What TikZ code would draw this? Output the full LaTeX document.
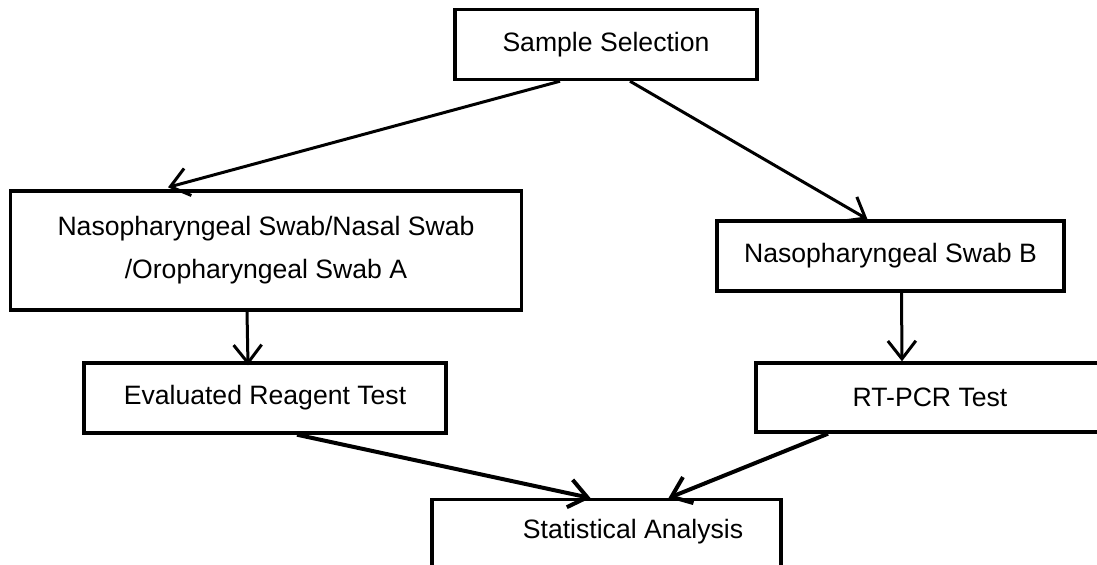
\documentclass[tikz,border=0pt]{standalone}
\usepackage{fontspec}
\setmainfont{Liberation Sans}
\usetikzlibrary{arrows.meta}
\begin{document}
\begin{tikzpicture}[x=0.5pt,y=-0.5pt,
  box/.style={draw=black,line width=1.7pt,fill=white,inner sep=0pt,align=center,
    font=\fontsize{13.3pt}{21.5pt}\selectfont},
  txt/.style={inner sep=0pt,font=\fontsize{13.3pt}{21.5pt}\selectfont},
  conn/.style={line width=1.5pt,-{Straight Barb[length=9pt,width=14pt,line width=1.5pt]}},
  connb/.style={line width=2pt,-{Straight Barb[length=9pt,width=14pt,line width=2pt]}}]
\fill[white] (0,0) rectangle (1097,564);
\useasboundingbox (0,0) rectangle (1097,564);
\clip (0,0) rectangle (1097,564);
\node[box,minimum width=151pt,minimum height=35pt] (sample) at (606,44.5) {Sample Selection};
\node[box,minimum width=255.5pt,minimum height=59.5pt] (swabA) at (266,250.5) {Nasopharyngeal Swab/Nasal Swab\\/Oropharyngeal Swab A};
\node[box,minimum width=173.5pt,minimum height=35pt] (swabB) at (890.5,256) {Nasopharyngeal Swab B};
\node[box,minimum width=181pt,minimum height=35pt] (eval) at (265,398) {Evaluated Reagent Test};
\node[box,minimum width=174pt,minimum height=34.5pt] (rt) at (930,397.5) {RT-PCR Test};
\node[box,minimum width=174.5pt,minimum height=50pt,anchor=north] (stat) at (606.5,498) {};
\node[txt] (stattext) at (633,532) {Statistical Analysis};
\draw[conn] ([xshift=-23pt]sample.south) -- ([xshift=-49pt,yshift=1pt]swabA.north);
\draw[conn] ([xshift=12pt]sample.south) -- ([xshift=-11.5pt]swabB.north);
\draw[conn] ([xshift=-9.5pt]swabA.south) -- ([xshift=-8.5pt,yshift=-2pt]eval.north);
\draw[conn] ([xshift=5.5pt]swabB.south) -- ([xshift=-14pt]rt.north);
\draw[connb] ([xshift=16pt]eval.south) -- ([xshift=-8pt]stat.north);
\draw[connb] ([xshift=-51pt]rt.south) -- ([xshift=31pt]stat.north);
\end{tikzpicture}
\end{document}
